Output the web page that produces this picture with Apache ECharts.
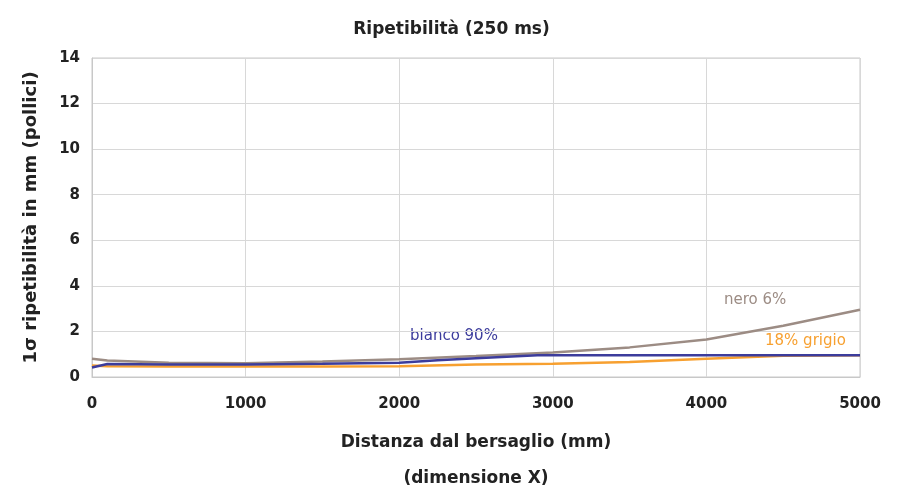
<!DOCTYPE html>
<html>
<head>
<meta charset="utf-8">
<script src="https://cdn.jsdelivr.net/npm/echarts@6/dist/echarts.min.js"></script>
<style>html,body{margin:0;padding:0;background:#fff}#c{width:903px;height:493px}</style>
</head>
<body>
<div id="c"></div>
<script>
// Distance (mm) and repeatability values (mm)
var distBianco = [0, 100, 500, 1000, 1500, 2000, 2250, 2500, 2900, 3500, 4000, 4500, 5000];
var bianco90   = [0.42, 0.57, 0.55, 0.55, 0.58, 0.63, 0.74, 0.82, 0.95, 0.95, 0.95, 0.95, 0.95];
var distNero   = [0, 100, 500, 1000, 1500, 2000, 2500, 3000, 3500, 4000, 4500, 5000];
var nero6      = [0.8, 0.72, 0.62, 0.6, 0.68, 0.78, 0.92, 1.08, 1.3, 1.65, 2.25, 2.95];
var distGrigio = [0, 100, 500, 1000, 1500, 2000, 2500, 3000, 3500, 4000, 4500, 5000];
var grigio18   = [0.5, 0.47, 0.46, 0.46, 0.46, 0.47, 0.55, 0.58, 0.66, 0.8, 0.93, 0.95];

var titleText = 'Ripetibilità (250 ms)';
var xName = 'Distanza dal bersaglio (mm)\n(dimensione X)';
var yName = '1σ ripetibilità in mm (pollici)';
var labels = ['bianco 90%', 'nero 6%', '18% grigio'];

function pairs(xs, ys) { return xs.map(function (x, i) { return [x, ys[i]]; }); }

var font = 'DejaVu Sans';
var chart = echarts.init(document.getElementById('c'));
chart.setOption({
  backgroundColor: '#fff',
  animation: false,
  title: {
    text: titleText, left: 'center', top: 16,
    textStyle: { fontFamily: font, fontSize: 17, fontWeight: 'bold', color: '#222' }
  },
  grid: { left: 92, right: 43, top: 58, bottom: 116, show: true, borderColor: '#c8c8c8', borderWidth: 1,
          outerBoundsMode: 'none', containLabel: false },
  xAxis: {
    type: 'value', min: 0, max: 5000, interval: 1000,
    name: xName, nameLocation: 'middle', nameGap: 48,
    nameTextStyle: { fontFamily: font, fontSize: 17, fontWeight: 'bold', color: '#222', lineHeight: 36 },
    axisLine: { show: true, lineStyle: { color: '#c8c8c8' } },
    axisTick: { show: false },
    axisLabel: { fontFamily: font, fontSize: 15, fontWeight: 'bold', color: '#222', margin: 20,
                 formatter: function (v) { return String(v); } },
    splitLine: { show: true, lineStyle: { color: '#d8d8d8' } }
  },
  yAxis: {
    type: 'value', min: 0, max: 14, interval: 2,
    name: yName, nameLocation: 'middle', nameGap: 52, nameRotate: 90,
    nameTextStyle: { fontFamily: font, fontSize: 18, fontWeight: 'bold', color: '#222' },
    axisLine: { show: true, lineStyle: { color: '#c8c8c8' } },
    axisTick: { show: false },
    axisLabel: { fontFamily: font, fontSize: 15, fontWeight: 'bold', color: '#222', margin: 12 },
    splitLine: { show: true, lineStyle: { color: '#d8d8d8' } }
  },
  series: [
    { name: labels[1], type: 'line', data: pairs(distNero, nero6), showSymbol: false,
      lineStyle: { color: '#9c8c84', width: 2.5 }, itemStyle: { color: '#9c8c84' } },
    { name: labels[2], type: 'line', data: pairs(distGrigio, grigio18), showSymbol: false,
      lineStyle: { color: '#f7a030', width: 2.5 }, itemStyle: { color: '#f7a030' } },
    { name: labels[0], type: 'line', data: pairs(distBianco, bianco90), showSymbol: false,
      lineStyle: { color: '#3c3c9c', width: 2.5 }, itemStyle: { color: '#3c3c9c' } }
  ],
  graphic: [
    { type: 'text', left: 410, top: 329, style: { text: labels[0], fill: '#3c3c9c', font: '15px "DejaVu Sans"' } },
    { type: 'text', left: 724, top: 293, style: { text: labels[1], fill: '#9c8c84', font: '15px "DejaVu Sans"' } },
    { type: 'text', left: 765, top: 334, style: { text: labels[2], fill: '#f7a030', font: '15px "DejaVu Sans"' } }
  ]
});
</script>
</body>
</html>
